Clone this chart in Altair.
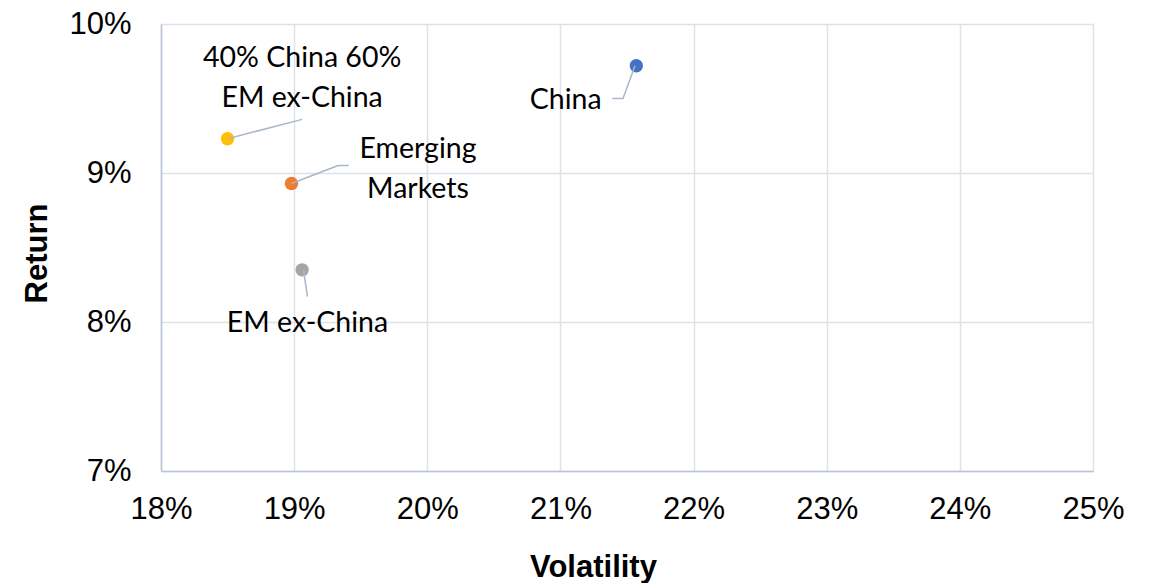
import altair as alt
import pandas as pd

# Data (percent units)
names = ["China", "40% China 60% EM ex-China", "Emerging Markets", "EM ex-China"]
volatility = [21.57, 18.50, 18.98, 19.06]
returns = [9.72, 9.23, 8.93, 8.35]
colors = ["#4472C4", "#FFC000", "#ED7D31", "#A5A5A5"]

# Data-label text and label anchor positions (data units, first line centre)
label_text = ["China", "40% China 60%\nEM ex-China", "Emerging\nMarkets", "EM ex-China"]
label_x = [21.04, 19.06, 19.93, 19.10]
label_y = [9.49, 9.77, 9.16, 7.99]

# Leader-line paths (data units)
leader_name = ["China", "China", "China",
               "Emerging Markets", "Emerging Markets", "Emerging Markets",
               "40% China 60% EM ex-China", "40% China 60% EM ex-China",
               "EM ex-China", "EM ex-China"]
leader_order = [0, 1, 2, 0, 1, 2, 0, 1, 0, 1]
leader_x = [21.56, 21.47, 21.39, 18.98, 19.33, 19.41, 18.50, 19.06, 19.07, 19.10]
leader_y = [9.72, 9.50, 9.50, 8.93, 9.05, 9.05, 9.23, 9.36, 8.35, 8.17]

x_ticks = [18, 19, 20, 21, 22, 23, 24, 25]
y_ticks = [7, 8, 9, 10]

pts = pd.DataFrame({"name": names, "vol": volatility, "ret": returns})
lbl = pd.DataFrame({"name": names, "text": label_text, "lx": label_x, "ly": label_y})
lead = pd.DataFrame({"name": leader_name, "o": leader_order, "x": leader_x, "y": leader_y})

xscale = alt.Scale(domain=[18, 25], nice=False, zero=False)
yscale = alt.Scale(domain=[7, 10], nice=False, zero=False)

xaxis = alt.Axis(values=x_ticks, labelExpr="datum.value + '%'", title="Volatility",
                 grid=True, gridColor="#DDE2EA", gridWidth=1.5, ticks=False,
                 domainColor="#B9C4D6", domainWidth=1.5,
                 labelFont="Liberation Sans", labelFontSize=31, labelColor="#000000",
                 labelPadding=23, labelFlush=False,
                 titleFont="Liberation Sans", titleFontSize=31, titleFontWeight="bold",
                 titleColor="#000000", titleX=432, titleY=96, titleBaseline="middle",
                 titleAlign="center")
yaxis = alt.Axis(values=y_ticks, labelExpr="datum.value + '%'", title="Return",
                 grid=True, gridColor="#DDE2EA", gridWidth=1.5, ticks=False,
                 domainColor="#B9C4D6", domainWidth=1.5,
                 labelFont="Liberation Sans", labelFontSize=31, labelColor="#000000",
                 labelPadding=30, labelFlush=False, labelBaseline="middle",
                 titleFont="Liberation Sans", titleFontSize=31, titleFontWeight="bold",
                 titleColor="#000000", titleX=-124, titleY=229, titleAngle=-90,
                 titleBaseline="middle", titleAlign="center")

color = alt.Color("name:N", scale=alt.Scale(domain=names, range=colors), legend=None)

points = alt.Chart(pts).mark_circle(size=180, opacity=1).encode(
    x=alt.X("vol:Q", scale=xscale, axis=xaxis),
    y=alt.Y("ret:Q", scale=yscale, axis=yaxis),
    color=color,
)

leaders = alt.Chart(lead).mark_line(color="#A9B6C9", strokeWidth=1.5).encode(
    x=alt.X("x:Q", scale=xscale),
    y=alt.Y("y:Q", scale=yscale),
    detail="name:N",
    order="o:Q",
)

labels = alt.Chart(lbl).mark_text(
    font="Lato", fontSize=28.5, color="#000000", lineBreak="\n", lineHeight=40,
    align="center", baseline="middle",
).encode(
    x=alt.X("lx:Q", scale=xscale),
    y=alt.Y("ly:Q", scale=yscale),
    text="text:N",
)

chart = alt.layer(points, leaders, labels).properties(
    width=932, height=447,
    autosize=alt.AutoSizeParams(type="none"),
    padding={"left": 153, "top": 16, "right": 40, "bottom": 120},
).configure_view(stroke=None).configure(background="#FFFFFF")

chart.save("out.html", embed_options={"renderer": "svg", "actions": False})
